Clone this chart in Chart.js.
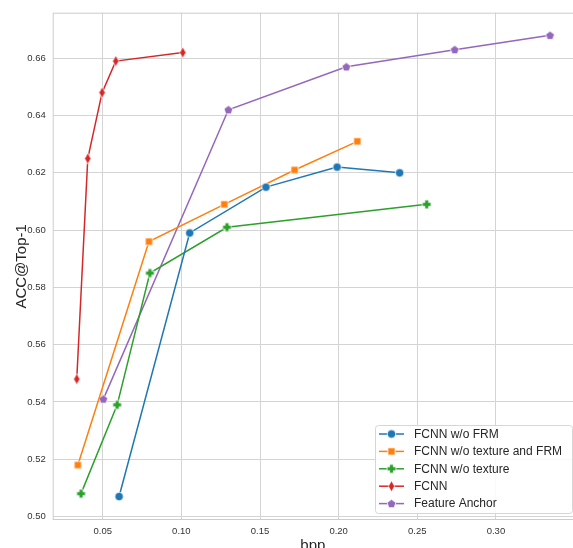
<!DOCTYPE html>
<html>
<head>
<meta charset="utf-8">
<script src="https://cdn.jsdelivr.net/npm/chart.js@4.4.1/dist/chart.umd.min.js"></script>
<style>
	body { margin: 0; background: #fff; }
	#wrap { width: 573px; height: 548px; }
</style>
</head>
<body>
<div id="wrap"><canvas id="acc" width="573" height="548"></canvas></div>
<script>
// values
const seriesNames = ["FCNN w/o FRM", "FCNN w/o texture and FRM", "FCNN w/o texture", "FCNN", "Feature Anchor"];

const bppNoFRM = [0.0604, 0.1053, 0.1538, 0.199, 0.2388];
const accNoFRM = [0.507, 0.599, 0.615, 0.622, 0.620];

const bppNoTexFRM = [0.0342, 0.0794, 0.1273, 0.172, 0.2119];
const accNoTexFRM = [0.518, 0.596, 0.609, 0.621, 0.631];

const bppNoTex = [0.0362, 0.0592, 0.080, 0.129, 0.256];
const accNoTex = [0.508, 0.539, 0.585, 0.601, 0.609];

const bppFCNN = [0.0335, 0.0405, 0.0496, 0.0583, 0.1009];
const accFCNN = [0.548, 0.625, 0.648, 0.659, 0.662];

const bppAnchor = [0.0504, 0.1299, 0.2049, 0.2738, 0.3344];
const accAnchor = [0.541, 0.642, 0.657, 0.663, 0.668];

const xTicks = [0.05, 0.10, 0.15, 0.20, 0.25, 0.30];
const yTicks = [0.50, 0.52, 0.54, 0.56, 0.58, 0.60, 0.62, 0.64, 0.66];

const colors = ["#1f77b4", "#ff7f0e", "#2ca02c", "#d62728", "#9467bd"];
const shapes = ["circle", "square", "plus", "thindiamond", "pentagon"];
const FONT = "'Liberation Sans', Arial, sans-serif";

// small canvas markers, white edge like seaborn
function makeMarker(shape, color) {
	let c = document.createElement("canvas");
	let w = 11, h = 11;
	if (shape === "thindiamond") { w = 9; h = 13; }
	c.width = w; c.height = h;
	let g = c.getContext("2d");
	let cx = w / 2, cy = h / 2;
	g.beginPath();
	if (shape === "circle") {
		g.arc(cx, cy, 4.2, 0, Math.PI * 2);
	} else if (shape === "square") {
		g.rect(cx - 3.6, cy - 3.6, 7.2, 7.2);
	} else if (shape === "plus") {
		let a = 4.4, b = 1.9;
		g.moveTo(cx - b, cy - a); g.lineTo(cx + b, cy - a); g.lineTo(cx + b, cy - b);
		g.lineTo(cx + a, cy - b); g.lineTo(cx + a, cy + b); g.lineTo(cx + b, cy + b);
		g.lineTo(cx + b, cy + a); g.lineTo(cx - b, cy + a); g.lineTo(cx - b, cy + b);
		g.lineTo(cx - a, cy + b); g.lineTo(cx - a, cy - b); g.lineTo(cx - b, cy - b);
		g.closePath();
	} else if (shape === "thindiamond") {
		g.moveTo(cx, cy - 5.6); g.lineTo(cx + 3.2, cy); g.lineTo(cx, cy + 5.6); g.lineTo(cx - 3.2, cy);
		g.closePath();
	} else if (shape === "pentagon") {
		for (let i = 0; i < 5; i++) {
			let ang = -Math.PI / 2 + i * 2 * Math.PI / 5;
			let px = cx + 4.6 * Math.cos(ang), py = cy + 0.4 + 4.6 * Math.sin(ang);
			if (i === 0) g.moveTo(px, py); else g.lineTo(px, py);
		}
		g.closePath();
	}
	g.fillStyle = color;
	g.fill();
	g.lineWidth = 0.8;
	g.strokeStyle = "#ffffff";
	g.stroke();
	return c;
}

function toPoints(xs, ys) {
	let pts = [];
	xs.forEach(function (x, i) { pts.push({ x: x, y: ys[i] }); });
	return pts;
}

const allX = [bppNoFRM, bppNoTexFRM, bppNoTex, bppFCNN, bppAnchor];
const allY = [accNoFRM, accNoTexFRM, accNoTex, accFCNN, accAnchor];
const markers = shapes.map(function (s, i) { return makeMarker(s, colors[i]); });

let datasets = [];
seriesNames.forEach(function (name, i) {
	datasets.push({
		label: name,
		data: toPoints(allX[i], allY[i]),
		borderColor: colors[i],
		backgroundColor: colors[i],
		borderWidth: 1.5,
		pointStyle: markers[i],
		pointRadius: 5,
		tension: 0
	});
});

// frame of the axes box (all four spines)
const framePlugin = {
	id: "frame",
	beforeDatasetsDraw(chart) {
		let a = chart.chartArea, ctx = chart.ctx;
		ctx.save();
		ctx.strokeStyle = "#cccccc";
		ctx.lineWidth = 1;
		ctx.strokeRect(a.left + 0.5, a.top + 0.5, a.right - a.left, a.bottom - a.top - 1);
		ctx.restore();
	}
};

// matplotlib-like legend in the lower right corner
const legendPlugin = {
	id: "boxLegend",
	afterDraw(chart) {
		let ctx = chart.ctx;
		let x0 = 375, y0 = 425, w = 197, h = 88;
		ctx.save();
		ctx.globalAlpha = 0.85;
		ctx.fillStyle = "#ffffff";
		ctx.beginPath();
		ctx.roundRect(x0 + 0.5, y0 + 0.5, w, h, 3);
		ctx.fill();
		ctx.globalAlpha = 1;
		ctx.strokeStyle = "#d6d6d6";
		ctx.lineWidth = 1;
		ctx.stroke();
		ctx.font = "12px " + FONT;
		ctx.textBaseline = "middle";
		ctx.fillStyle = "#262626";
		seriesNames.forEach(function (name, i) {
			let y = y0 + 9 + i * 17.4;
			ctx.strokeStyle = colors[i];
			ctx.lineWidth = 1.5;
			ctx.beginPath();
			ctx.moveTo(379, y); ctx.lineTo(404, y);
			ctx.stroke();
			let m = markers[i];
			ctx.drawImage(m, 391.5 - m.width / 2, y - m.height / 2);
			ctx.fillText(name, 414, y + 0.5);
		});
		ctx.restore();
	}
};

const ctx = document.getElementById("acc").getContext("2d");
let chart = null;
chart = new Chart(ctx, {
	type: "line",
	data: { datasets: datasets },
	plugins: [framePlugin, legendPlugin],
	options: {
		responsive: false,
		animation: false,
		layout: { autoPadding: false, padding: { top: 12.7, right: 0, left: 0, bottom: 0 } },
		plugins: {
			legend: { display: false },
			tooltip: { enabled: false }
		},
		scales: {
			x: {
				type: "linear",
				min: 0.0182,
				max: 0.349,
				afterBuildTicks: function (scale) {
					scale.ticks = xTicks.map(function (v) { return { value: v }; });
				},
				afterFit: function (scale) {
					scale.height = 28;
					scale.paddingLeft = 0;
					scale.paddingRight = 0;
				},
				grid: { color: "#d4d4d4", lineWidth: 1, drawTicks: false },
				border: { display: false },
				ticks: {
					padding: 6,
					color: "#333333",
					font: { family: FONT, size: 9.5 },
					callback: function (v) { return v.toFixed(2); }
				},
				title: {
					display: true,
					text: "bpp",
					color: "#262626",
					font: { family: FONT, size: 15, lineHeight: 1.2 },
					padding: { top: 0, bottom: -7 }
				}
			},
			y: {
				type: "linear",
				min: 0.4988,
				max: 0.6759,
				afterBuildTicks: function (scale) {
					scale.ticks = yTicks.map(function (v) { return { value: v }; });
				},
				afterFit: function (scale) {
					scale.width = 52.7;
					scale.paddingTop = 0;
					scale.paddingBottom = 0;
				},
				grid: { color: "#d4d4d4", lineWidth: 1, drawTicks: false },
				border: { display: false },
				ticks: {
					padding: 7,
					color: "#333333",
					font: { family: FONT, size: 9.5 },
					callback: function (v) { return v.toFixed(2); }
				},
				title: {
					display: true,
					text: "ACC@Top-1",
					color: "#262626",
					font: { family: FONT, size: 15, lineHeight: 1.2 },
					padding: { top: 13, bottom: 0 }
				}
			}
		}
	}
});
</script>
</body>
</html>
